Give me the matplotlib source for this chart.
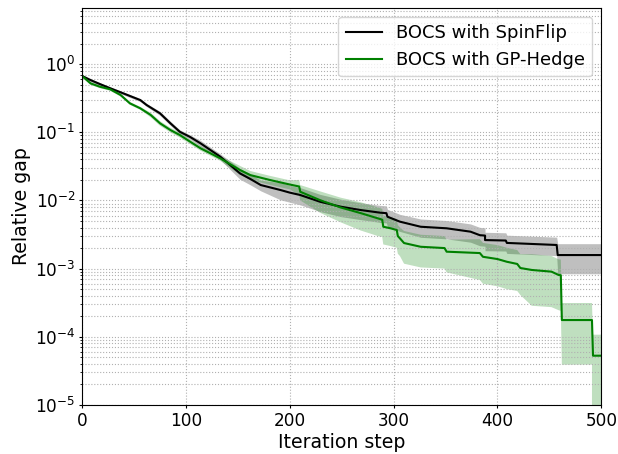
import numpy as np
import matplotlib.pyplot as plt

# BOCS with SpinFlip: curve vertices (iteration, mean relative gap, std)
sf_steps = [0, 8, 17, 27, 37, 46, 56, 62, 75, 85, 94, 104, 114, 133, 152, 162,
            172, 191, 200, 210, 229, 249, 268, 287, 293, 294, 306, 326, 351,
            374, 383, 388, 388, 408, 409, 457, 458, 500]
sf_mean = [0.667, 0.582, 0.509, 0.441, 0.385, 0.340, 0.296, 0.251, 0.189,
           0.135, 0.1016, 0.0851, 0.0687, 0.0438, 0.0249, 0.0206, 0.0168,
           0.0142, 0.0130, 0.0120, 0.00957, 0.00809, 0.00723, 0.00661,
           0.00650, 0.00577, 0.00488, 0.00411, 0.00390, 0.00348, 0.00309,
           0.00305, 0.00262, 0.00258, 0.00238, 0.00222, 0.00158, 0.00158]
sf_std = [0.033, 0.029, 0.025, 0.022, 0.019, 0.017, 0.015, 0.013, 0.013,
          0.0095, 0.0071, 0.0060, 0.0069, 0.0044, 0.0045, 0.0037, 0.0030,
          0.0040, 0.0036, 0.0034, 0.0027, 0.0023, 0.0020, 0.00185,
          0.00182, 0.00162, 0.00137, 0.00123, 0.00117, 0.00104, 0.00093,
          0.00092, 0.00079, 0.00077, 0.00071, 0.00067, 0.00074, 0.00074]

# BOCS with GP-Hedge
gh_steps = [0, 8, 17, 27, 37, 46, 56, 66, 75, 85, 94, 104, 114, 133, 152, 162,
            181, 200, 209, 210, 229, 249, 268, 287, 289, 290, 297, 303, 304,
            306, 310, 326, 349, 351, 383, 386, 400, 409, 419, 422, 433, 452,
            459, 461, 462, 491, 492, 500]
gh_mean = [0.667, 0.521, 0.465, 0.426, 0.351, 0.265, 0.224, 0.179, 0.135,
           0.1076, 0.0910, 0.0726, 0.0581, 0.0414, 0.0279, 0.0235, 0.0199,
           0.0171, 0.0160, 0.0134, 0.0101, 0.00787, 0.00653, 0.00533,
           0.00520, 0.00411, 0.00390, 0.00368, 0.00300, 0.00278, 0.00237,
           0.00209, 0.00200, 0.00177, 0.00169, 0.00149, 0.00138, 0.00126,
           0.00117, 0.00102, 0.000955, 0.000902, 0.000805, 0.000800,
           0.000176, 0.000176, 0.0000528, 0.0000528]
gh_std = [0.033, 0.026, 0.023, 0.021, 0.018, 0.013, 0.011, 0.014, 0.0108,
          0.0086, 0.0073, 0.0058, 0.0046, 0.0033, 0.0042, 0.0035, 0.0030,
          0.0026, 0.0040, 0.0034, 0.0035, 0.0031, 0.0029, 0.0024,
          0.0023, 0.00185, 0.00176, 0.00166, 0.00135, 0.00125, 0.00119,
          0.00105, 0.0010, 0.00089, 0.00101, 0.00089, 0.00083, 0.00076,
          0.00070, 0.00061, 0.00067, 0.00063, 0.00056, 0.00056,
          0.000137, 0.000137, 0.0000545, 0.0000545]

sf_mean, sf_std = np.array(sf_mean), np.array(sf_std)
gh_mean, gh_std = np.array(gh_mean), np.array(gh_std)

fig, ax = plt.subplots(figsize=(6.18, 4.54), dpi=100)
fig.subplots_adjust(left=0.133, right=0.973, top=0.983, bottom=0.108)

ax.plot(sf_steps, sf_mean, color='k', lw=1.5, label='BOCS with SpinFlip')
ax.fill_between(sf_steps, sf_mean - sf_std, sf_mean + sf_std,
                color='gray', alpha=0.5, lw=0)
ax.plot(gh_steps, gh_mean, color='green', lw=1.5, label='BOCS with GP-Hedge')
ax.fill_between(gh_steps, gh_mean - gh_std, gh_mean + gh_std,
                color='green', alpha=0.25, lw=0)

ax.set_yscale('log')
ax.set_xlim(0, 500)
ax.set_ylim(1e-5, 6.7)
ax.grid(which='both', linestyle=':')
ax.tick_params(which='major', labelsize=12.2, length=2.4, pad=2.4)
ax.tick_params(which='minor', length=1.4)
ax.set_xlabel('Iteration step', fontsize=13.6, labelpad=2.7)
ax.set_ylabel('Relative gap', fontsize=13.6, labelpad=2.7)
ax.legend(loc='upper right', fontsize=13)

plt.savefig('out.png')
